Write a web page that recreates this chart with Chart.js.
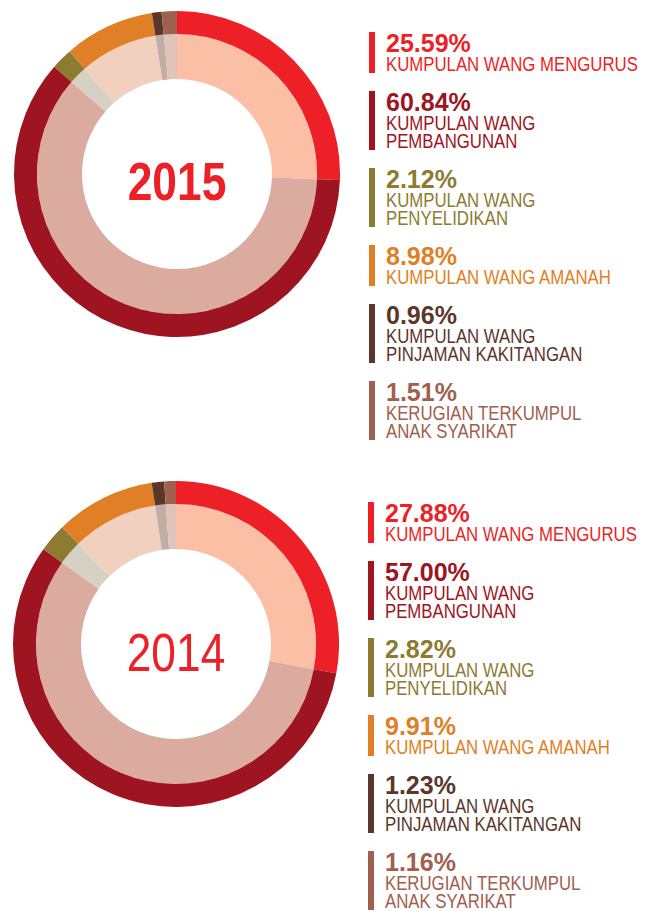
<!DOCTYPE html>
<html>
<head>
<meta charset="utf-8">
<script src="https://cdn.jsdelivr.net/npm/chart.js@4"></script>
<style>
    body { margin: 0; background: #fff; width: 650px; height: 911px; position: relative; overflow: hidden; font-family: "Liberation Sans", Arial, sans-serif; }
    .chart { position: absolute; width: 326px; height: 326px; }
    .legend { position: absolute; display: flex; flex-direction: column; gap: 18px; }
    .item { display: flex; }
    .bar { width: 6px; margin-right: 11px; flex: none; }
    .pct { font-weight: bold; font-size: 25px; line-height: 23px; white-space: nowrap; }
    .label { font-size: 19.5px; line-height: 18px; white-space: nowrap; transform: scaleX(0.86); transform-origin: left top; }
</style>
</head>
<body>
<div class="chart" style="left:14px; top:11px;"><canvas id="chart2015" width="326" height="326"></canvas></div>
<div class="chart" style="left:13px; top:481px;"><canvas id="chart2014" width="326" height="326"></canvas></div>
<div class="legend" id="legend2015" style="left:369px; top:32px;"></div>
<div class="legend" id="legend2014" style="left:368px; top:502px;"></div>

<script>
const categories = [
    ['KUMPULAN WANG MENGURUS'],
    ['KUMPULAN WANG', 'PEMBANGUNAN'],
    ['KUMPULAN WANG', 'PENYELIDIKAN'],
    ['KUMPULAN WANG AMANAH'],
    ['KUMPULAN WANG', 'PINJAMAN KAKITANGAN'],
    ['KERUGIAN TERKUMPUL', 'ANAK SYARIKAT']
];
const values2015 = [25.59, 60.84, 2.12, 8.98, 0.96, 1.51];
const values2014 = [27.88, 57.00, 2.82, 9.91, 1.23, 1.16];

const outerColors = ['#ED1F27', '#9E1421', '#8C7B31', '#E07F25', '#5B362B', '#A0604F'];
const innerColors = ['#FBBFA6', '#DBABA0', '#D6D2C3', '#F2D0C0', '#C0ADA6', '#E0C3B9'];

function centerText(text, bold, baseline) {
    return {
        id: 'centerText',
        afterDraw(chart) {
            const ctx = chart.ctx;
            const meta = chart.getDatasetMeta(0);
            const x = meta.data[0].x;
            const y = meta.data[0].y;
            ctx.save();
            ctx.fillStyle = '#ED1F27';
            ctx.font = (bold ? 'bold ' : '') + '54px "Liberation Sans", Arial, sans-serif';
            ctx.textAlign = 'center';
            ctx.textBaseline = 'alphabetic';
            ctx.translate(x, y + baseline);
            ctx.scale(0.82, 1); // condensed look
            ctx.fillText(text, 0, 0);
            ctx.restore();
        }
    };
}

function drawChart(id, values, year, bold, baseline) {
    const ctx = document.getElementById(id).getContext('2d');
    new Chart(ctx, {
        type: 'doughnut',
        data: {
            labels: categories.map(c => c.join(' ')),
            datasets: [{
                data: values,
                backgroundColor: outerColors,
                borderWidth: 0,
                weight: 23
            }, {
                data: values,
                backgroundColor: innerColors,
                borderWidth: 0,
                weight: 45
            }]
        },
        options: {
            responsive: false,
            animation: false,
            cutout: '58.3%',
            hoverOffset: 0,
            plugins: {
                legend: { display: false },
                tooltip: { enabled: false }
            }
        },
        plugins: [centerText(year, bold, baseline)]
    });
}

function drawLegend(id, values) {
    const box = document.getElementById(id);
    values.forEach((v, i) => {
        const item = document.createElement('div');
        item.className = 'item';
        item.innerHTML =
            '<div class="bar" style="background:' + outerColors[i] + '"></div>' +
            '<div style="color:' + outerColors[i] + '">' +
            '<div class="pct">' + v.toFixed(2) + '%</div>' +
            categories[i].map(line => '<div class="label">' + line + '</div>').join('') +
            '</div>';
        box.appendChild(item);
    });
}

drawChart('chart2015', values2015, '2015', true, 26);
drawChart('chart2014', values2014, '2014', false, 27);
drawLegend('legend2015', values2015);
drawLegend('legend2014', values2014);
</script>
</body>
</html>
